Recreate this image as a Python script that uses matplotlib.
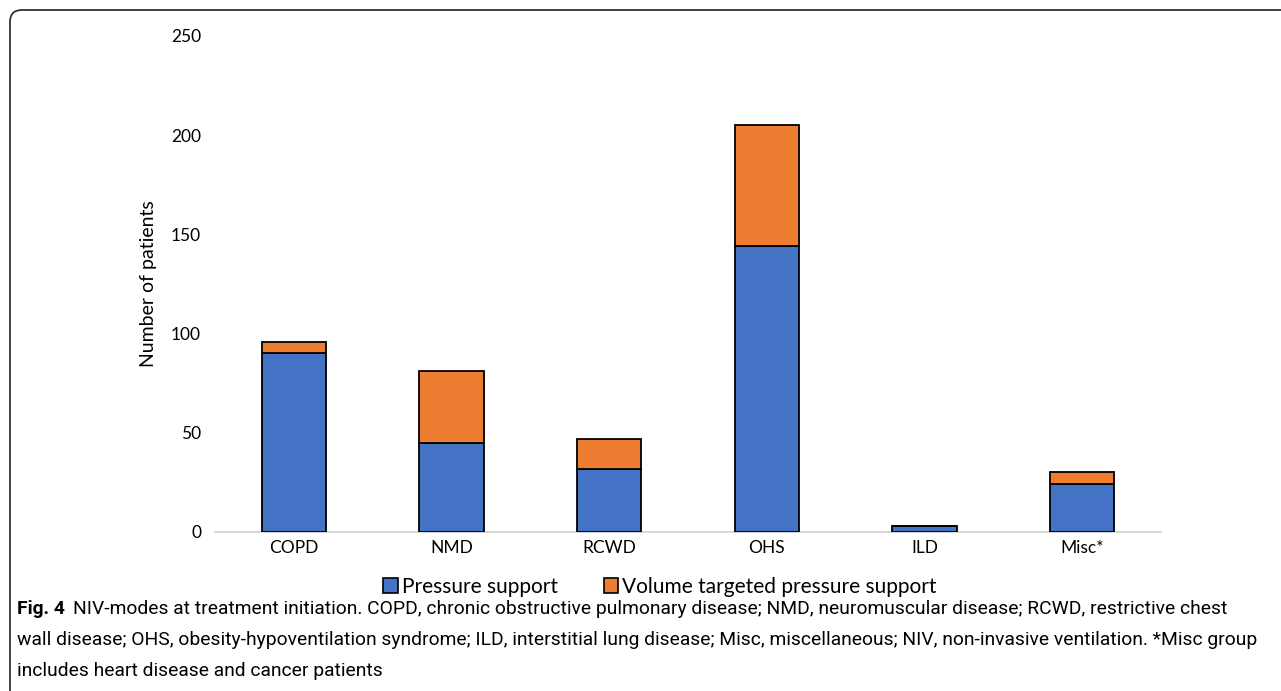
import matplotlib
matplotlib.use("Agg")
import matplotlib.pyplot as plt
from matplotlib.path import Path
from matplotlib.patches import PathPatch, Patch
from matplotlib import font_manager

categories = ["COPD", "NMD", "RCWD", "OHS", "ILD", "Misc*"]
pressure_support = [90, 45, 32, 144, 3, 24]
volume_targeted = [6, 36, 15, 61, 0, 6]
series_names = ["Pressure support", "Volume targeted pressure support"]
yticks = [0, 50, 100, 150, 200, 250]

blue = "#4472C4"
orange = "#ED7D31"

names = {f.name for f in font_manager.fontManager.ttflist}
chart_font = "Lato" if "Lato" in names else "DejaVu Sans"
cap_font = "Liberation Sans Narrow" if "Liberation Sans Narrow" in names else "Roboto"

W, H = 1281, 691
fig = plt.figure(figsize=(W / 100, H / 100), dpi=100)
ax = fig.add_axes([215 / W, 1 - 532 / H, (1161 - 215) / W, (532 - 36) / H])

x = range(len(categories))
ax.bar(x, pressure_support, width=0.41, color=blue, edgecolor="black", linewidth=1.3, zorder=3)
ax.bar(x, volume_targeted, width=0.41, bottom=pressure_support, color=orange,
       edgecolor="black", linewidth=1.3, zorder=3)

ax.set_xlim(-0.5, len(categories) - 0.5)
ax.set_ylim(0, 250)
ax.set_yticks(yticks)
ax.set_xticks(list(x))
ax.set_xticklabels(categories, fontsize=12.5, fontfamily=chart_font)
for lab in ax.get_yticklabels():
    lab.set_fontsize(12.5)
    lab.set_fontfamily(chart_font)
ax.tick_params(axis="y", length=0, pad=10)
ax.tick_params(axis="x", length=0, pad=6)
for s in ["top", "right", "left"]:
    ax.spines[s].set_visible(False)
ax.spines["bottom"].set_color("#d0d0d0")
ax.spines["bottom"].set_linewidth(1.2)
ax.set_ylabel("Number of patients", fontsize=14, fontfamily=chart_font, labelpad=10)

handles = [Patch(facecolor=blue, edgecolor="black", linewidth=1.2),
           Patch(facecolor=orange, edgecolor="black", linewidth=1.2)]
fig.legend(handles, series_names, loc="center", bbox_to_anchor=(660 / W, 1 - 587 / H),
           ncol=2, frameon=False, prop={"family": chart_font, "size": 15},
           handlelength=0.7, handleheight=0.7, handletextpad=0.2, columnspacing=2.2)

# frame with rounded top-left corner
r = 12
verts = [(W + 5, 10), (10 + r, 10), (10, 10), (10, 10 + r), (10, H + 5)]
codes = [Path.MOVETO, Path.LINETO, Path.CURVE3, Path.CURVE3, Path.LINETO]
verts = [(vx / W, 1 - vy / H) for vx, vy in verts]
fig.patches.append(PathPatch(Path(verts, codes), transform=fig.transFigure,
                             fill=False, edgecolor="#333333", linewidth=1.3))

# caption
cap_size = 13.9
lines = [
    "NIV-modes at treatment initiation. COPD, chronic obstructive pulmonary disease; NMD, neuromuscular disease; RCWD, restrictive chest",
    "wall disease; OHS, obesity-hypoventilation syndrome; ILD, interstitial lung disease; Misc, miscellaneous; NIV, non-invasive ventilation. *Misc group",
    "includes heart disease and cancer patients",
]
t = fig.text(17 / W, 1 - 609 / H, "Fig. 4", fontsize=cap_size, fontweight="bold",
             fontfamily=cap_font, va="center", ha="left")
renderer = fig.canvas.get_renderer()
bb = t.get_window_extent(renderer)
fig.text((bb.x1 + 8) / W, 1 - 609 / H, lines[0], fontsize=cap_size, fontfamily=cap_font,
         va="center", ha="left")
fig.text(17 / W, 1 - 640 / H, lines[1], fontsize=cap_size, fontfamily=cap_font,
         va="center", ha="left")
fig.text(17 / W, 1 - 671 / H, lines[2], fontsize=cap_size, fontfamily=cap_font,
         va="center", ha="left")

fig.savefig("out.png", dpi=100)
